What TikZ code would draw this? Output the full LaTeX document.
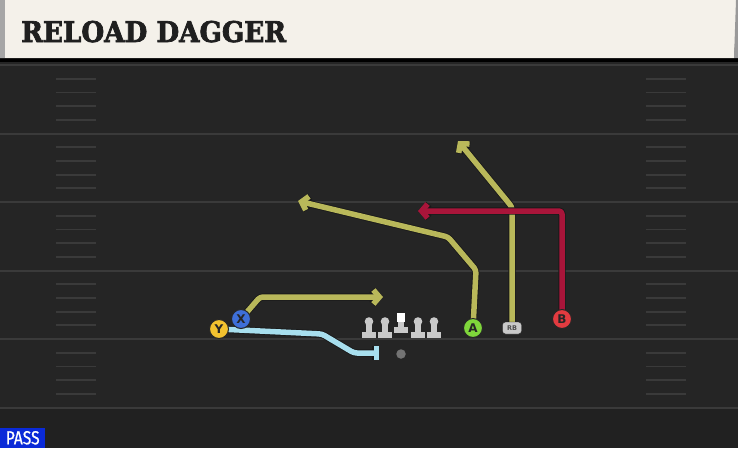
\documentclass[tikz,border=0pt]{standalone}
\usepackage{fontspec}
\usetikzlibrary{arrows.meta}
\newfontfamily\titlefont{DejaVu Serif}[FakeStretch=0.92, FakeBold=2.5]
\newfontfamily\labelfont{DejaVu Sans}
\newfontfamily\passfont{Fira Sans}[FakeStretch=0.82, FakeBold=0.6]

\definecolor{field}{HTML}{252525}
\definecolor{fieldline}{HTML}{3A3A3A}
\definecolor{cream}{HTML}{F4F1EA}
\definecolor{olive}{HTML}{B9B85A}
\definecolor{crimson}{HTML}{A9153A}
\definecolor{sky}{HTML}{A8DFEE}
\definecolor{ybtn}{HTML}{F3C22F}
\definecolor{xbtn}{HTML}{3E6FD8}
\definecolor{abtn}{HTML}{7FD63B}
\definecolor{bbtn}{HTML}{E23B40}
\definecolor{rbgrey}{HTML}{C9C9C9}
\definecolor{passblue}{HTML}{0A2AD8}

\pgfdeclarelayer{turf}
\pgfdeclarelayer{routes}
\pgfsetlayers{turf,routes,main}

\tikzset{
  route/.style={line width=5.5pt, line join=round, rounded corners=3pt,
    preaction={draw=black!90, line width=7.2pt}},
  btn/.style={circle, draw=black!85, line width=1pt, inner sep=0pt,
    minimum size=19pt, font=\labelfont\bfseries\fontsize{12}{12}\selectfont,
    text=black!85},
  lineman/.style={fill=rbgrey}
}

\begin{document}
\begin{tikzpicture}[x=1pt,y=-1pt]

\useasboundingbox (0,0) rectangle (738,448);

\begin{pgfonlayer}{turf}
\fill[field] (0,0) rectangle (738,448);
\fill[field!88!black] (0,408) rectangle (738,448);

% field lines and hashes
\foreach \k in {0,...,5}
  \draw[fieldline, line width=2pt] (0,65+68.5*\k) -- (738,65+68.5*\k);
\foreach \j in {1,2,3,4,6,7,8,9,11,12,13,14,16,17,18,19,21,22,23,24} {
  \draw[fieldline, line width=1.8pt] (56,65+13.7*\j) -- (96,65+13.7*\j);
  \draw[fieldline, line width=1.8pt] (646,65+13.7*\j) -- (686,65+13.7*\j);
}

% title bar
\fill[black] (0,56) rectangle (738,62);
\fill[cream] (0,0) -- (738,0) -- (734,58) -- (0,58) -- cycle;
\fill[black!35] (0,0) rectangle (5,58);
\fill[black!40] (736,0) -- (738,0) -- (738,58) -- (734,58) -- cycle;
\end{pgfonlayer}

\node[anchor=base west, inner sep=0pt, text=black!88,
  font=\titlefont\bfseries\fontsize{28.5}{28.5}\selectfont] (title) at (21,42) {RELOAD DAGGER};

% players
\node[btn, fill=ybtn] (Y) at (219,329) {Y};
\node[btn, fill=xbtn] (X) at (241,319) {X};
\node[btn, fill=abtn] (A) at (473,328) {A};
\node[btn, fill=bbtn] (B) at (562,319) {B};
\node[draw=black!85, fill=rbgrey, rounded corners=3pt, inner sep=0pt,
  minimum width=19pt, minimum height=12pt,
  font=\labelfont\bfseries\fontsize{6.5}{6.5}\selectfont, text=black!70] (RB) at (512,328) {RB};
\node[circle, fill=black!55, inner sep=0pt, minimum size=9.5pt] (QB) at (401,354) {};

% route points
\coordinate (y1) at (322,334);
\coordinate (y2) at (354,353);
\coordinate (yend) at (379,353);
\coordinate (x1) at (260,297);
\coordinate (xend) at (383,297);
\coordinate (a1) at (476,270);
\coordinate (a2) at (448,237);
\coordinate (aend) at (298,201);
\coordinate (rb1) at (512,207);
\coordinate (rbend) at (458,141);
\coordinate (b1) at (562,211);
\coordinate (bend) at (418,211);

\begin{pgfonlayer}{routes}
\draw[route, sky, -{Bar[width=14pt]}] (Y.center) -- (y1) -- (y2) -- (yend);
\draw[route, olive, -{Straight Barb[length=6pt,width=14pt]}] (X.center) -- (x1) -- (xend);
\draw[route, olive, -{Straight Barb[length=6pt,width=14pt]}] (A.center) -- (a1) -- (a2) -- (aend);
\draw[route, olive, -{Straight Barb[length=6pt,width=14pt]}] (RB.center) -- (rb1) -- (rbend);
\draw[route, crimson, -{Straight Barb[length=6pt,width=14pt]}] (B.center) -- (b1) -- (bend);
\end{pgfonlayer}

% line
\foreach \x in {369,385,418,434} {
  \fill[lineman] (\x,321.5) circle (4.3pt);
  \fill[lineman] (\x-2.8,321.5) rectangle (\x+2.8,333);
  \fill[lineman] (\x-6.8,332) rectangle (\x+6.8,338);
}
\fill[white] (396.8,312.5) rectangle (405.2,321.5);
\fill[lineman] (398.2,321.5) rectangle (403.8,328);
\fill[lineman] (394.2,327) rectangle (407.8,332.5);

% play type
\node[fill=passblue, anchor=south west, inner xsep=2.5pt, inner ysep=2pt,
  minimum height=20pt, minimum width=45pt,
  text=white, font=\passfont\fontsize{19}{19}\selectfont] (play) at (0,448) {PASS};

\end{tikzpicture}
\end{document}
